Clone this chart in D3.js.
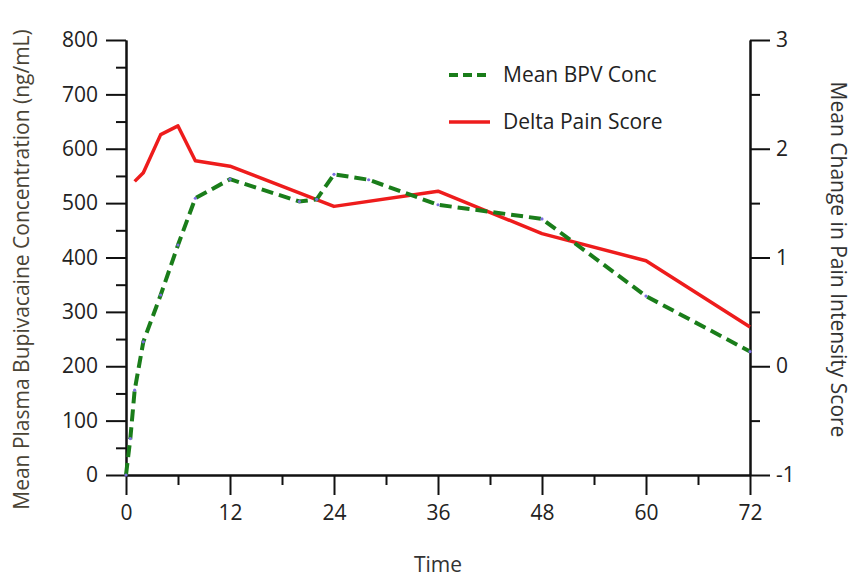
<!DOCTYPE html>
<html>
<head>
<meta charset="utf-8">
<script src="https://cdn.jsdelivr.net/npm/d3@7"></script>
<style>
  html, body { margin: 0; padding: 0; background: #fff; }
  svg { display: block; }
  text { font-family: "Open Sans", "Noto Sans", sans-serif; }
</style>
</head>
<body>
<svg id="chart" width="855" height="581"></svg>
<script>
// ---- data ----
const concTimes  = [0, 0.5, 1, 2, 4, 6, 8, 12, 20, 22, 24, 28, 36, 48, 60, 72];
const concValues = [0, 67, 156, 245, 331, 423, 509, 544, 503, 507, 553, 543, 497, 471, 329, 227];
const painTimes  = [1, 2, 4, 6, 8, 12, 24, 36, 48, 60, 72];
const painValues = [1.70, 1.78, 2.13, 2.21, 1.89, 1.84, 1.47, 1.61, 1.22, 0.97, 0.36];
const xTicks      = [0, 12, 24, 36, 48, 60, 72];
const xMinorTicks = [6, 18, 30, 42, 54, 66];
const yLeftTicks  = [0, 100, 200, 300, 400, 500, 600, 700, 800];
const yLeftMinor  = [50, 150, 250, 350, 450, 550, 650, 750];
const yRightTicks = [-1, 0, 1, 2, 3];
const yRightMinor = [-0.5, 0.5, 1.5, 2.5];
const seriesNames = ["Mean BPV Conc", "Delta Pain Score"];
const xTitle = "Time";
const yLeftTitle = "Mean Plasma Bupivacaine Concentration (ng/mL)";
const yRightTitle = "Mean Change in Pain Intensity Score";

// ---- layout ----
const L = 126, R = 750, T = 40, B = 475;
const svg = d3.select("#chart");
const x  = d3.scaleLinear().domain([0, 72]).range([L, R]);
const yL = d3.scaleLinear().domain([0, 800]).range([B, T]);
const yR = d3.scaleLinear().domain([-1, 3]).range([B, T]);

const MAJ = 20, MIN = 10, FS = 21;
const green = "#1a7d1a", red = "#ee1c1c", axisCol = "#111", textCol = "#222";

function styleAxis(g) {
  g.select(".domain").attr("stroke", axisCol).attr("stroke-width", 2);
  g.selectAll(".tick line").attr("stroke", axisCol).attr("stroke-width", 2);
  g.selectAll(".tick text").attr("fill", textCol).style("font-size", FS + "px")
    .style("font-family", "'Open Sans', 'Noto Sans', sans-serif");
}

// minor ticks
svg.append("g").attr("transform", `translate(0,${B})`)
  .call(d3.axisBottom(x).tickValues(xMinorTicks).tickSize(MIN).tickSizeOuter(0).tickFormat(""))
  .call(styleAxis);
svg.append("g").attr("transform", `translate(${L},0)`)
  .call(d3.axisLeft(yL).tickValues(yLeftMinor).tickSize(MIN).tickSizeOuter(0).tickFormat(""))
  .call(styleAxis);
svg.append("g").attr("transform", `translate(${R},0)`)
  .call(d3.axisRight(yR).tickValues(yRightMinor).tickSize(MIN).tickSizeOuter(0).tickFormat(""))
  .call(styleAxis);

// major axes
svg.append("g").attr("transform", `translate(0,${B})`)
  .call(d3.axisBottom(x).tickValues(xTicks).tickSize(MAJ).tickSizeOuter(0).tickPadding(10))
  .call(styleAxis);
svg.append("g").attr("transform", `translate(${L},0)`)
  .call(d3.axisLeft(yL).tickValues(yLeftTicks).tickSize(MAJ).tickSizeOuter(0).tickPadding(8))
  .call(styleAxis);
svg.append("g").attr("transform", `translate(${R},0)`)
  .call(d3.axisRight(yR).tickValues(yRightTicks).tickSize(MAJ).tickSizeOuter(0).tickPadding(6)
    .tickFormat(d => String(d)))
  .call(styleAxis);

// ---- lines ----
const concData = concTimes.map((t, i) => ({ t, v: concValues[i] }));
const painData = painTimes.map((t, i) => ({ t, v: painValues[i] }));

svg.append("path").datum(painData)
  .attr("fill", "none").attr("stroke", red).attr("stroke-width", 3.5)
  .attr("stroke-linejoin", "round")
  .attr("d", d3.line().x(d => x(d.t)).y(d => yR(d.v)));

svg.append("path").datum(concData)
  .attr("fill", "none").attr("stroke", green).attr("stroke-width", 4)
  .attr("stroke-dasharray", "12,6")
  .attr("d", d3.line().x(d => x(d.t)).y(d => yL(d.v)));

svg.append("g").selectAll("circle").data(concData).join("circle")
  .attr("cx", d => x(d.t)).attr("cy", d => yL(d.v)).attr("r", 1.6)
  .attr("fill", "#7b6fe0");

// ---- legend ----
const lg = svg.append("g");
lg.append("line").attr("x1", 449).attr("x2", 490).attr("y1", 75).attr("y2", 75)
  .attr("stroke", green).attr("stroke-width", 4).attr("stroke-dasharray", "9,5");
lg.append("text").attr("x", 503).attr("y", 75).attr("dy", "0.35em")
  .style("font-size", "21px").attr("fill", textCol).text(seriesNames[0]);
lg.append("line").attr("x1", 449).attr("x2", 490).attr("y1", 122).attr("y2", 122)
  .attr("stroke", red).attr("stroke-width", 3.5);
lg.append("text").attr("x", 503).attr("y", 122).attr("dy", "0.35em")
  .style("font-size", "21px").attr("fill", textCol).text(seriesNames[1]);

// ---- titles ----
svg.append("text").attr("x", (L + R) / 2).attr("y", 565).attr("dy", "0.35em")
  .attr("text-anchor", "middle").style("font-size", "21px").attr("fill", "#333").text(xTitle);
svg.append("text").attr("transform", `translate(22,${(T + B) / 2 + 12}) rotate(-90)`)
  .attr("dy", "0.35em").attr("text-anchor", "middle")
  .style("font-size", "21px").attr("fill", "#4a4436").text(yLeftTitle);
svg.append("text").attr("transform", `translate(838,${(T + B) / 2 + 2}) rotate(90)`)
  .attr("dy", "0.35em").attr("text-anchor", "middle")
  .style("font-size", "21px").attr("fill", "#333").text(yRightTitle);
</script>
</body>
</html>
